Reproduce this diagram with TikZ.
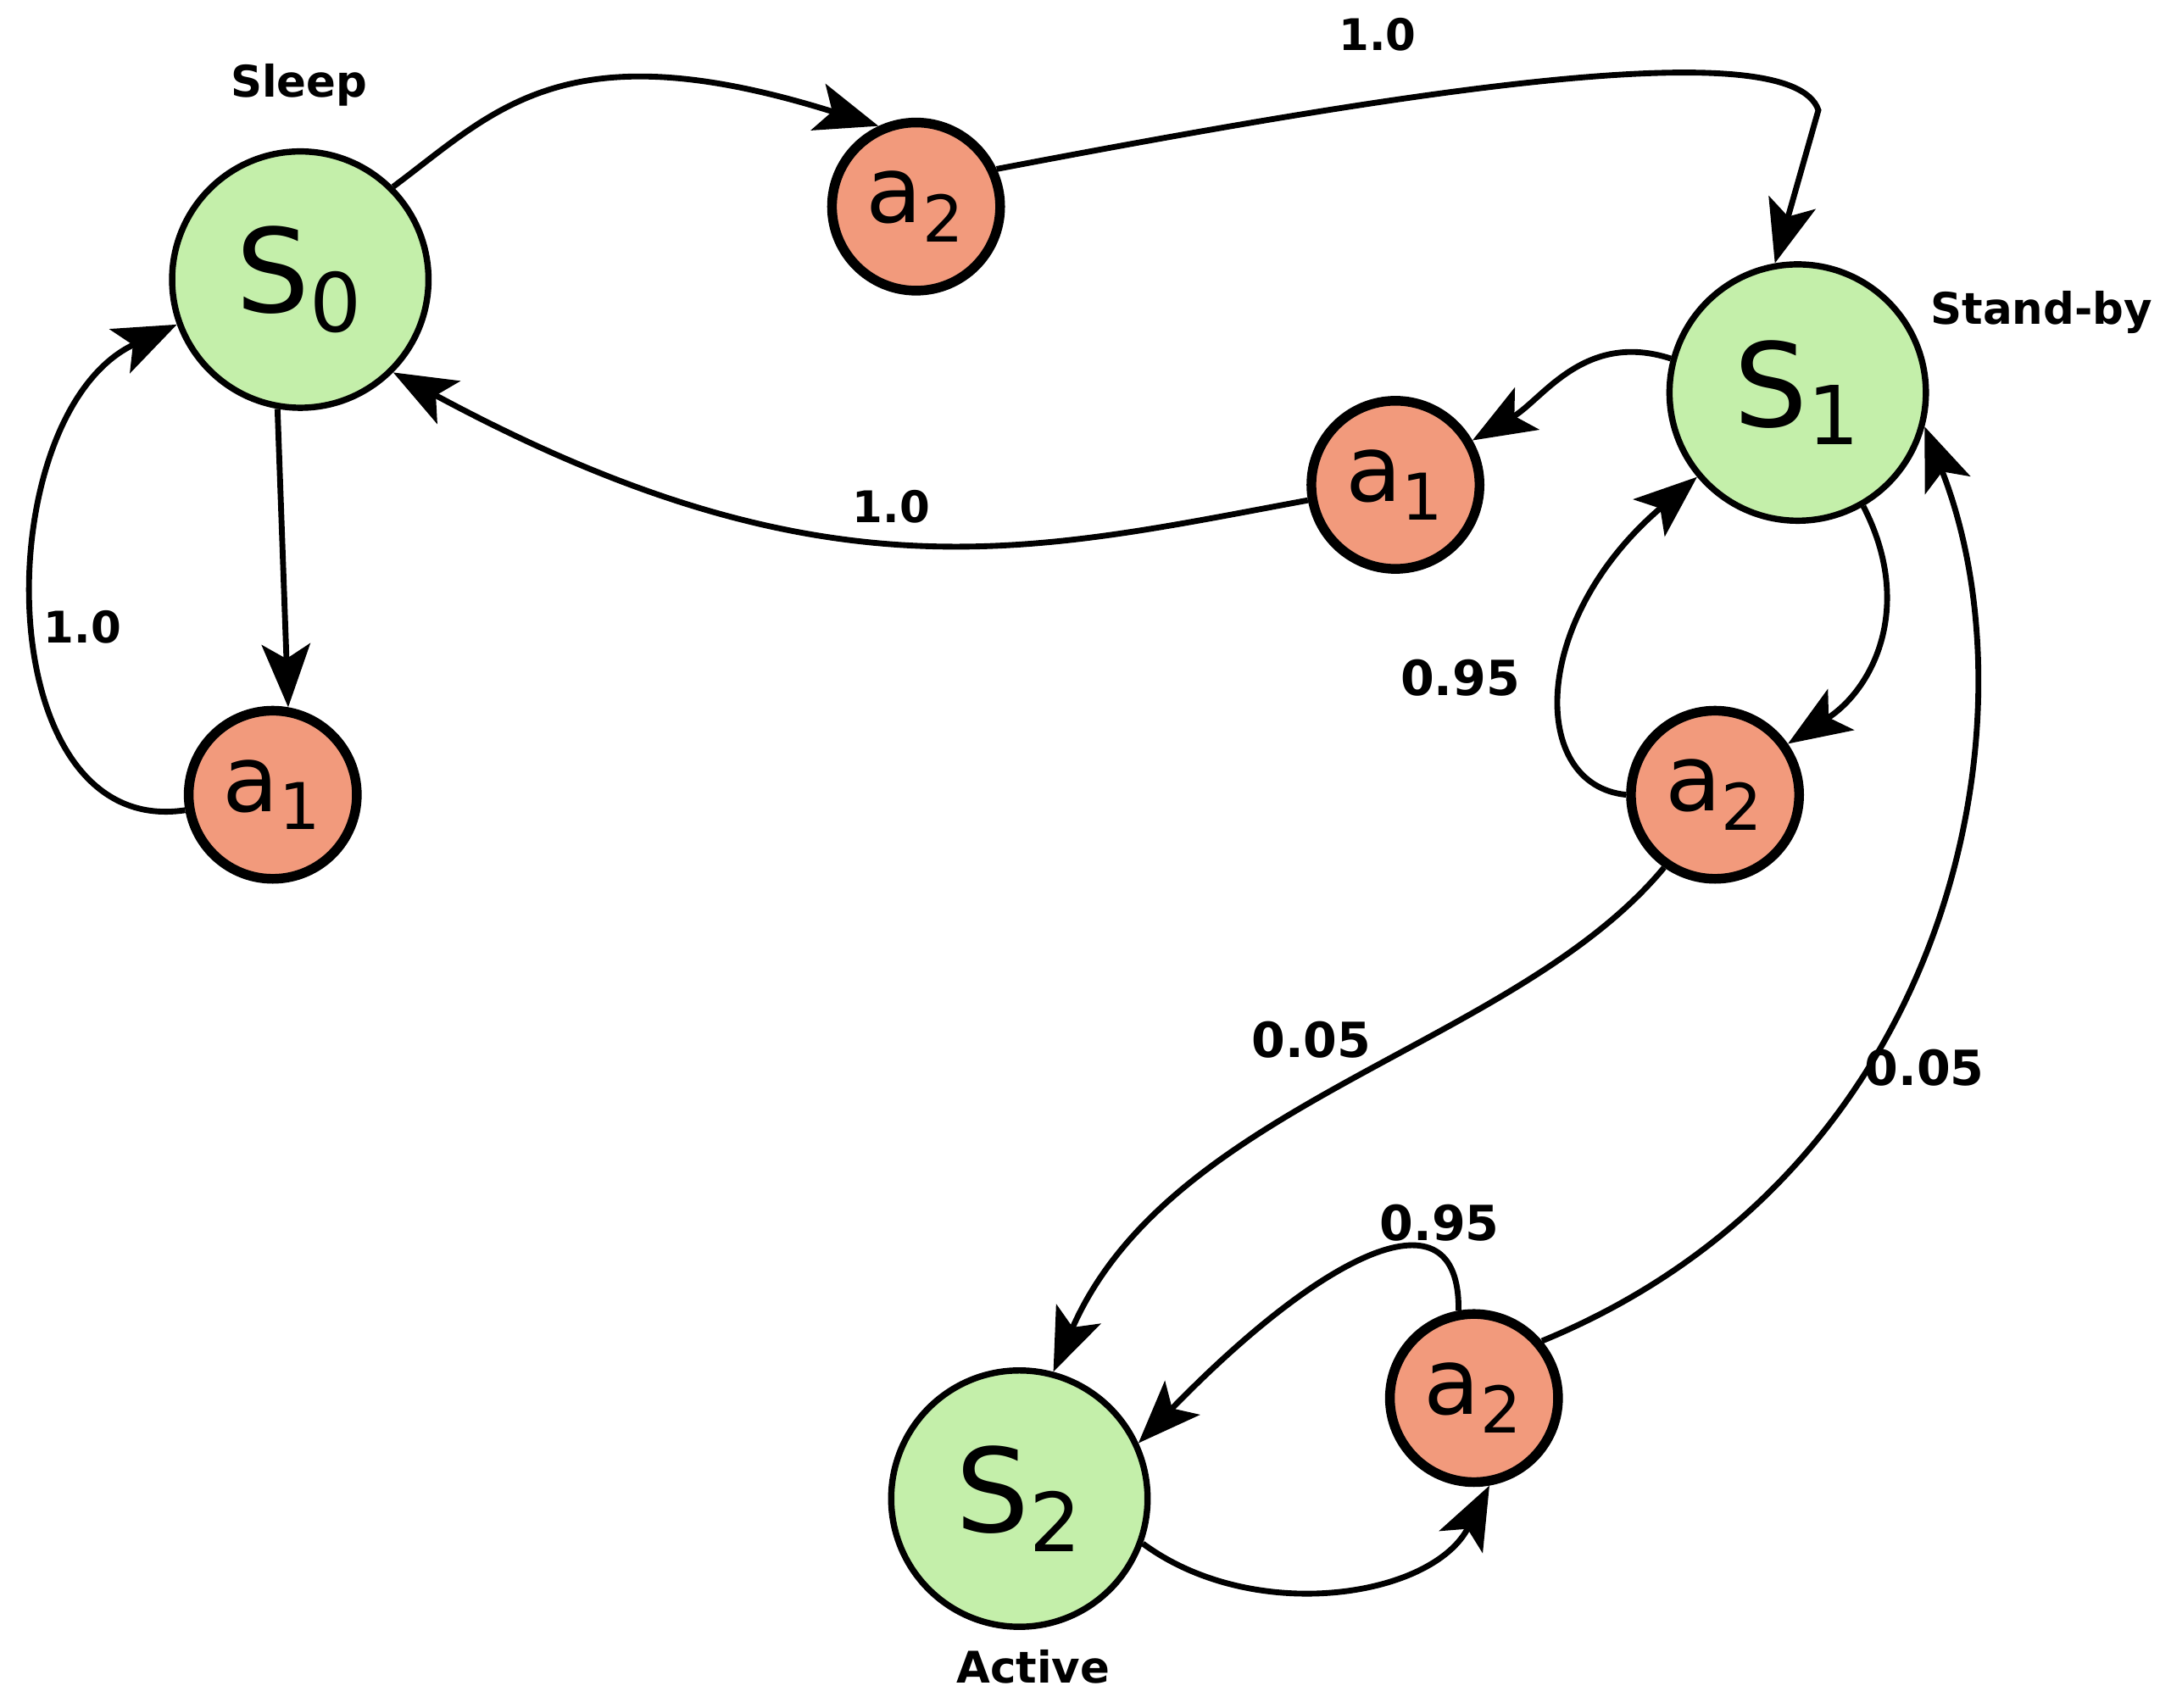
\documentclass[tikz,border=0pt]{standalone}
\usepackage{fontspec}
\setmainfont{DejaVu Sans}
\usetikzlibrary{arrows.meta}
\definecolor{sg}{HTML}{C4EFAA}
\definecolor{ao}{HTML}{F29A7C}
\begin{document}
\begin{tikzpicture}[x=0.01cm,y=-0.01cm,
 st/.style={circle,draw,line width=1.3pt,fill=sg,minimum size=1.86cm,inner sep=0pt,font=\fontsize{24}{26}\selectfont},
 ac/.style={circle,draw,line width=2pt,fill=ao,minimum size=1.22cm,inner sep=0pt,font=\fontsize{19}{21}\selectfont},
 lb/.style={font=\bfseries\fontsize{9}{10}\selectfont},
 pr/.style={font=\bfseries\fontsize{9}{10}\selectfont},
 pn/.style={font=\rmfamily\fontsize{10}{11}\selectfont\bfseries},
 e/.style={line width=1.2pt,-{Stealth[length=13pt,width=10pt,inset=3pt]}}]
\useasboundingbox (0,0) rectangle (1568,1240);
\node[st] (S0) at (218,203) {S\textsubscript{0}};
\node[st] (S1) at (1305,285) {S\textsubscript{1}};
\node[st] (S2) at (740,1088) {S\textsubscript{2}};
\node[ac] (a2t) at (665,150) {a\textsubscript{2}};
\node[ac] (a1m) at (1013,352) {a\textsubscript{1}};
\node[ac] (a1l) at (198,577) {a\textsubscript{1}};
\node[ac] (a2r) at (1245,577) {a\textsubscript{2}};
\node[ac] (a2b) at (1070,1015) {a\textsubscript{2}};
\node[lb] (l0) at (217,62) {Sleep};
\node[lb] (l1) at (1482,227) {Stand-by};
\node[lb] (l2) at (750,1210) {Active};
\node[pr] (p1) at (1000,25) {1.0};
\node[pr] (p2) at (647,368) {1.0};
\node[pr] (p3) at (60,455) {1.0};
\node[pn] (p4) at (1060,492) {0.95};
\node[pn] (p5) at (952,755) {0.05};
\node[pn] (p6) at (1397,775) {0.05};
\node[pn] (p7) at (1045,888) {0.95};
\draw[e] (S0.45) .. controls (360,80) and (410,20) .. (a2t.115);
\draw[e] (a2t.25) .. controls (1000,70) and (1300,20) .. (1320,80) -- (S1.100);
\draw[e] (S1.165) .. controls (1150,240) and (1120,290) .. (a1m.30);
\draw[e] (a1m.190) .. controls (750,400) and (600,440) .. (S0.-45);
\draw[e] (S0.-100) -- (a1l.80);
\draw[e] (a1l.190) .. controls (-10,610) and (-10,300) .. (S0.200);
\draw[e] (S1.-60) .. controls (1390,440) and (1360,500) .. (a2r.35);
\draw[e] (a2r.180) .. controls (1110,570) and (1110,450) .. (S1.220);
\draw[e] (a2r.235) .. controls (1100,760) and (850,800) .. (S2.75);
\draw[e] (a2b.100) .. controls (1060,860) and (960,910) .. (S2.25);
\draw[e] (S2.-20) .. controls (910,1180) and (1040,1160) .. (a2b.-80);
\draw[e] (a2b.40) .. controls (1420,850) and (1480,520) .. (S1.-15);
\end{tikzpicture}
\end{document}
